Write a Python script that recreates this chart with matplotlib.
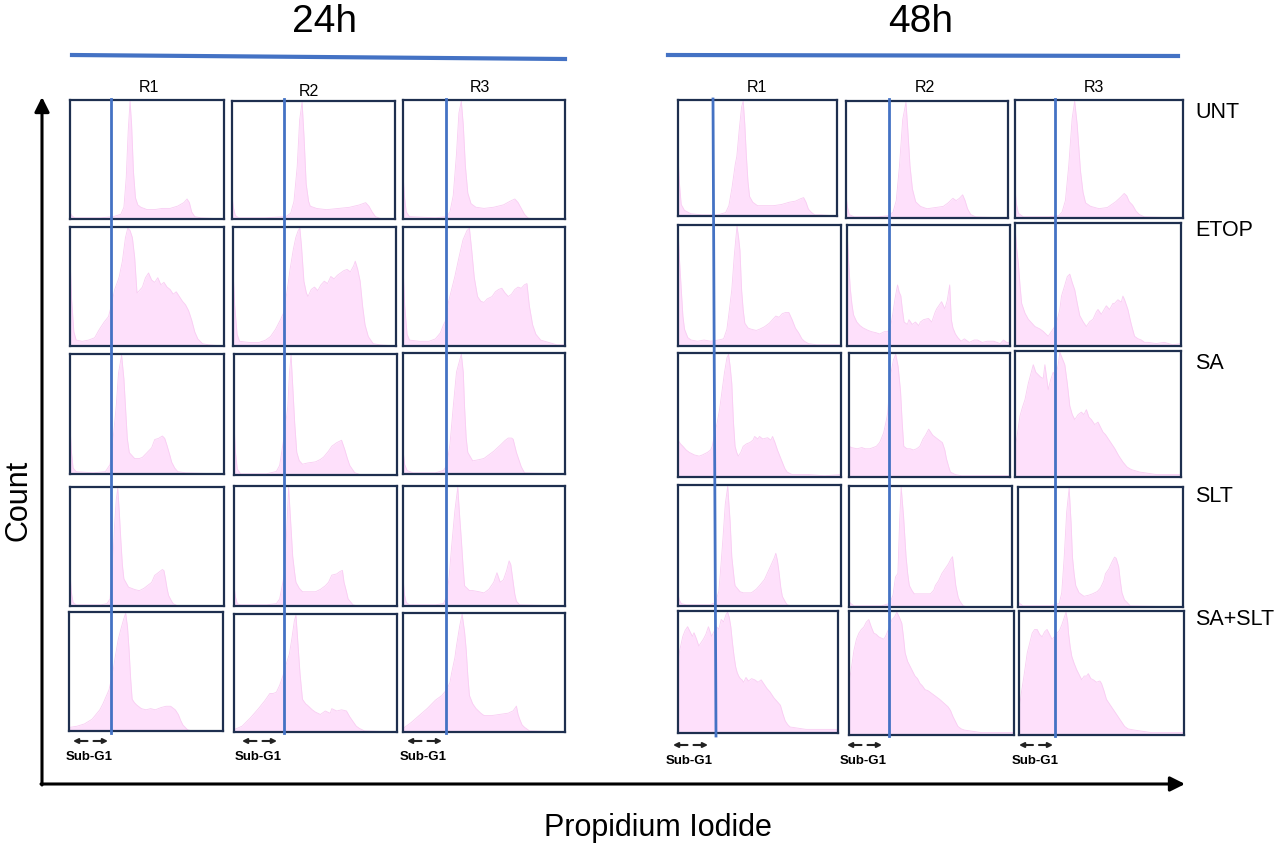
import matplotlib
matplotlib.use("Agg")
import matplotlib.pyplot as plt

plt.rcParams['font.family'] = ['Liberation Sans', 'DejaVu Sans']

TIMES = ['24h', '48h']
REPS = ['R1', 'R2', 'R3']
TREATMENTS = ['UNT', 'ETOP', 'SA', 'SLT', 'SA+SLT']

# PI histograms: (PI channel 0-1000, count as % of panel max)
# ---- 24h ----
UNT_24_R1 = [(0,6),(10,3),(30,1),(100,1),(200,1),(280,2),(330,4),(350,10),(365,35),(378,75),(390,100),(400,80),(412,40),(425,18),(440,12),(460,10),(500,8),(550,8),(600,9),(650,9),(700,11),(740,14),(760,17),(775,14),(790,6),(810,2),(850,1),(1000,0)]
UNT_24_R2 = [(0,20),(8,10),(20,3),(40,1),(200,1),(330,2),(360,5),(380,15),(400,45),(415,85),(430,100),(442,70),(455,30),(470,15),(480,11),(520,9),(580,8),(650,9),(720,10),(780,12),(820,14),(840,11),(860,6),(880,2),(920,0),(1000,0)]
UNT_24_R3 = [(0,39),(8,20),(20,6),(40,2),(200,1),(270,2),(290,6),(310,20),(330,55),(345,90),(360,100),(372,80),(385,45),(400,22),(420,13),(450,10),(500,9),(560,10),(620,12),(660,15),(690,17),(710,14),(730,9),(750,4),(770,1),(800,0),(1000,0)]

ETOP_24_R1 = [(0,76),(10,40),(25,12),(40,5),(80,4),(120,5),(160,7),(190,14),(220,20),(250,25),(270,35),(290,48),(310,55),(320,59),(340,72),(360,92),(375,100),(390,98),(405,92),(420,75),(435,45),(450,47),(470,50),(490,58),(510,62),(530,56),(550,54),(570,58),(590,52),(610,54),(630,50),(650,48),(670,44),(690,46),(710,42),(730,38),(750,35),(770,30),(790,22),(810,12),(830,6),(860,2),(900,1),(1000,0)]
ETOP_24_R2 = [(0,65),(10,35),(25,10),(40,4),(100,3),(160,3),(200,5),(230,8),(260,14),(290,22),(310,28),(330,45),(350,65),(370,82),(385,92),(400,98),(410,100),(420,85),(435,55),(450,45),(460,42),(480,48),(500,50),(520,47),(540,52),(560,55),(580,53),(600,59),(620,57),(640,60),(660,62),(680,64),(700,65),(720,63),(740,68),(750,72),(765,65),(780,55),(795,34),(810,18),(830,8),(860,2),(900,1),(1000,0)]
ETOP_24_R3 = [(0,68),(10,35),(25,10),(40,5),(100,4),(160,4),(200,6),(230,11),(250,18),(265,22),(280,37),(300,48),(320,59),(345,75),(370,90),(395,98),(410,100),(425,80),(440,58),(460,42),(480,38),(500,37),(520,40),(550,42),(570,46),(590,48),(610,49),(630,45),(650,42),(670,44),(690,48),(710,50),(730,49),(750,52),(765,53),(780,34),(800,18),(820,10),(850,5),(900,3),(950,1),(1000,1)]

SA_24_R1 = [(0,41),(8,20),(20,5),(40,2),(150,1),(230,2),(260,8),(280,30),(300,57),(315,85),(335,100),(350,80),(360,57),(372,30),(385,18),(420,13),(450,13),(470,14),(500,18),(530,22),(550,29),(575,30),(600,32),(615,30),(630,24),(650,15),(660,10),(680,5),(700,2),(750,1),(1000,0)]
SA_24_R2 = [(0,43),(8,20),(20,5),(40,1),(200,1),(260,3),(280,8),(305,30),(330,57),(340,85),(350,100),(362,70),(372,44),(385,19),(400,12),(420,9),(450,10),(500,11),(530,13),(550,15),(580,20),(600,24),(630,27),(660,29),(680,21),(695,14),(710,8),(740,2),(780,0),(1000,0)]
SA_24_R3 = [(0,20),(10,8),(25,3),(60,1),(200,1),(250,3),(270,7),(290,25),(310,56),(330,85),(360,100),(372,85),(380,56),(390,30),(400,18),(430,11),(470,12),(500,13),(530,16),(560,19),(600,24),(630,28),(650,30),(670,30),(680,29),(700,18),(715,12),(730,6),(750,1),(1000,0)]

SLT_24_R1 = [(0,29),(8,12),(20,3),(40,1),(200,1),(240,2),(260,6),(275,30),(290,70),(300,90),(310,100),(320,80),(330,56),(340,35),(350,23),(380,16),(420,14),(450,13),(480,15),(500,17),(530,20),(550,26),(580,29),(600,31),(610,30),(620,23),(630,15),(640,9),(660,4),(670,2),(700,0),(1000,0)]
SLT_24_R2 = [(0,17),(8,8),(20,2),(40,1),(200,1),(260,2),(280,6),(300,20),(310,28),(322,60),(335,100),(348,70),(360,42),(372,28),(380,20),(400,15),(420,12),(450,12),(500,12),(530,14),(560,17),(580,20),(600,26),(630,27),(650,29),(665,30),(675,20),(690,12),(700,6),(730,1),(760,0),(1000,0)]
SLT_24_R3 = [(0,25),(8,10),(20,3),(40,1),(200,1),(250,2),(270,8),(285,25),(300,50),(320,80),(338,100),(350,75),(360,56),(370,35),(380,17),(410,13),(430,13),(470,12),(500,11),(530,14),(560,20),(580,28),(600,20),(620,22),(640,30),(655,38),(665,35),(680,20),(690,10),(700,4),(720,1),(1000,0)]

COMBO_24_R1 = [(0,3),(50,4),(100,6),(150,10),(200,18),(220,23),(240,29),(260,35),(270,41),(285,50),(300,63),(320,78),(340,88),(355,95),(368,100),(380,88),(390,69),(400,45),(410,27),(425,24),(440,22),(470,19),(500,18),(530,19),(560,18),(600,20),(630,21),(660,21),(690,18),(710,14),(725,9),(740,5),(770,1),(800,0),(1000,0)]
COMBO_24_R2 = [(0,2),(50,5),(100,12),(150,20),(190,27),(220,33),(240,33),(260,34),(280,40),(300,48),(320,58),(340,67),(355,80),(370,95),(380,100),(395,70),(405,50),(420,28),(440,24),(450,23),(480,19),(500,17),(530,15),(560,18),(590,16),(600,20),(630,18),(660,19),(690,18),(710,13),(730,9),(750,5),(770,3),(800,1),(1000,0)]
COMBO_24_R3 = [(0,3),(50,8),(100,14),(150,20),(200,27),(240,31),(270,36),(290,42),(300,50),(320,63),(330,73),(350,90),(365,100),(380,85),(390,70),(400,48),(410,31),(430,24),(450,20),(480,16),(500,14),(550,14),(600,15),(650,16),(680,18),(700,22),(710,15),(720,11),(735,6),(750,4),(780,1),(1000,0)]

# ---- 48h ----
UNT_48_R1 = [(0,52),(8,30),(20,10),(40,5),(80,2),(150,1),(250,1),(300,3),(320,9),(340,25),(360,45),(370,52),(385,75),(400,95),(410,100),(420,80),(430,52),(440,30),(450,17),(470,12),(500,9),(550,9),(600,9),(650,10),(700,12),(740,13),(770,15),(790,16),(805,12),(820,6),(840,3),(860,1),(900,1),(1000,0)]
UNT_48_R2 = [(0,20),(8,10),(20,3),(50,1),(200,1),(260,2),(290,5),(310,15),(330,45),(350,85),(370,100),(382,75),(395,45),(410,25),(430,14),(460,10),(500,8),(550,9),(600,10),(630,13),(660,17),(680,15),(700,17),(720,20),(735,15),(750,8),(770,3),(800,1),(1000,0)]
UNT_48_R3 = [(0,25),(8,12),(20,4),(50,1),(200,1),(260,2),(280,5),(300,15),(320,45),(340,85),(355,100),(370,80),(390,40),(405,22),(420,13),(450,10),(500,8),(550,9),(600,14),(630,18),(650,21),(665,19),(680,14),(700,11),(720,6),(740,3),(770,1),(1000,0)]

ETOP_48_R1 = [(0,97),(10,70),(20,47),(30,25),(40,14),(60,7),(80,5),(120,4),(160,5),(200,4),(250,5),(280,6),(300,14),(315,30),(330,47),(345,75),(355,90),(362,100),(372,90),(380,80),(390,47),(400,30),(410,19),(430,15),(450,14),(480,13),(500,14),(530,16),(560,19),(580,22),(600,25),(620,24),(640,27),(660,28),(680,28),(690,25),(700,22),(720,15),(740,11),(760,6),(775,4),(800,2),(850,1),(1000,1)]
ETOP_48_R2 = [(0,97),(10,70),(20,48),(30,35),(40,26),(60,20),(80,17),(100,15),(130,13),(150,12),(180,11),(200,10),(230,12),(250,12),(270,18),(280,26),(295,40),(310,51),(320,45),(330,42),(340,30),(350,20),(370,18),(380,22),(400,18),(420,20),(440,17),(450,20),(470,22),(500,23),(520,20),(540,28),(550,31),(570,35),(580,37),(600,31),(615,38),(630,51),(640,22),(650,15),(665,10),(680,7),(700,4),(720,6),(750,3),(780,5),(800,5),(830,3),(860,4),(900,4),(940,2),(960,5),(980,3),(1000,3)]
ETOP_48_R3 = [(0,98),(10,80),(20,68),(30,50),(40,35),(60,27),(80,22),(100,19),(120,16),(150,14),(170,12),(200,8),(220,12),(240,16),(250,19),(270,30),(280,41),(300,50),(315,57),(330,59),(345,52),(360,46),(375,35),(390,25),(410,20),(430,16),(450,20),(470,22),(490,28),(500,30),(520,26),(550,33),(570,30),(590,35),(600,35),(620,38),(640,36),(650,41),(660,38),(680,30),(700,18),(720,8),(740,6),(760,5),(780,3),(800,3),(850,2),(900,3),(950,1),(1000,2)]

SA_48_R1 = [(0,30),(15,27),(30,25),(50,22),(70,20),(100,18),(130,17),(150,18),(180,20),(200,22),(210,25),(225,35),(240,44),(255,55),(270,70),(285,85),(300,97),(310,100),(320,90),(330,76),(340,45),(350,25),(360,20),(370,17),(385,20),(400,25),(420,27),(440,28),(460,30),(470,33),(490,31),(500,33),(520,31),(550,32),(570,30),(580,33),(595,28),(610,22),(625,17),(640,12),(655,7),(670,4),(700,2),(800,2),(900,1),(1000,2)]
SA_48_R2 = [(0,25),(15,24),(50,23),(80,24),(100,23),(130,23),(150,24),(170,25),(190,28),(200,31),(215,36),(230,45),(240,52),(250,70),(260,84),(275,95),(290,100),(305,90),(320,70),(330,45),(340,25),(360,23),(380,23),(400,22),(420,23),(440,25),(460,31),(475,34),(495,39),(510,36),(520,34),(540,32),(560,30),(580,28),(595,22),(605,15),(620,8),(630,4),(660,2),(700,1),(800,1),(1000,1)]
SA_48_R3 = [(0,23),(15,35),(30,49),(45,56),(60,62),(80,75),(100,85),(110,90),(125,84),(140,82),(155,80),(170,79),(180,90),(190,80),(200,70),(215,78),(230,84),(245,80),(260,90),(270,100),(285,95),(300,90),(315,75),(330,57),(345,50),(360,46),(380,50),(400,52),(415,50),(430,54),(445,48),(460,46),(480,42),(500,44),(515,40),(530,36),(545,34),(560,31),(580,27),(600,23),(625,17),(650,12),(675,8),(700,6),(725,5),(750,4),(800,3),(850,2),(900,2),(950,2),(1000,2)]

SLT_48_R1 = [(0,10),(8,5),(20,2),(50,1),(200,1),(230,3),(250,12),(260,28),(275,55),(290,85),(305,100),(320,70),(330,41),(345,22),(350,17),(380,12),(400,11),(450,11),(480,14),(500,17),(530,22),(550,28),(570,34),(590,40),(600,44),(610,38),(620,28),(630,16),(640,8),(660,3),(670,1),(700,0),(1000,0)]
SLT_48_R2 = [(0,5),(10,3),(30,1),(200,1),(250,3),(270,10),(285,25),(300,28),(310,70),(320,100),(335,75),(350,42),(360,28),(370,18),(385,14),(400,11),(450,11),(500,11),(520,14),(530,18),(550,22),(570,28),(590,32),(610,36),(625,40),(635,42),(645,30),(655,18),(670,8),(680,5),(700,1),(730,0),(1000,0)]
SLT_48_R3 = [(0,5),(10,3),(30,1),(200,1),(250,3),(265,12),(280,42),(295,80),(310,100),(322,70),(330,42),(340,28),(350,18),(370,12),(400,9),(430,10),(450,11),(480,13),(500,16),(520,22),(530,28),(550,32),(570,38),(585,42),(595,41),(610,34),(620,22),(630,12),(645,6),(660,4),(680,1),(1000,0)]

COMBO_48_R1 = [(0,56),(10,68),(30,80),(45,85),(60,88),(75,84),(90,80),(100,83),(115,78),(130,72),(145,75),(160,78),(175,82),(190,88),(200,84),(210,80),(225,84),(240,88),(255,86),(270,94),(285,92),(300,98),(310,100),(320,96),(330,88),(340,75),(350,64),(360,55),(370,50),(380,47),(390,45),(400,44),(410,42),(425,46),(440,43),(460,45),(480,44),(500,42),(520,44),(540,40),(555,37),(575,34),(600,29),(620,26),(640,23),(655,16),(670,10),(685,7),(700,5),(750,4),(800,3),(900,3),(1000,3)]
COMBO_48_R2 = [(0,42),(15,55),(30,69),(45,78),(60,83),(75,86),(90,88),(105,92),(120,94),(135,88),(150,83),(165,82),(180,80),(195,79),(210,78),(220,80),(230,83),(245,88),(260,94),(275,96),(290,100),(305,96),(320,91),(330,80),(340,67),(355,60),(370,56),(385,52),(400,48),(415,46),(430,42),(445,40),(460,37),(480,36),(500,34),(520,32),(550,29),(575,26),(600,23),(615,20),(630,15),(645,11),(660,7),(680,5),(700,4),(750,3),(800,2),(900,2),(1000,2)]
COMBO_48_R3 = [(0,20),(15,35),(30,48),(50,67),(65,75),(80,83),(95,86),(110,86),(125,82),(140,80),(155,84),(170,86),(185,82),(200,78),(215,80),(230,83),(245,85),(260,90),(275,96),(285,100),(295,92),(300,83),(310,72),(320,64),(335,58),(350,53),(365,49),(380,45),(395,48),(410,48),(420,50),(435,46),(450,45),(470,43),(490,44),(500,42),(515,36),(530,29),(545,26),(560,23),(580,19),(600,15),(620,11),(640,7),(660,5),(700,4),(750,3),(800,2),(900,2),(1000,2)]

HISTS = {
    '24h': [[UNT_24_R1, UNT_24_R2, UNT_24_R3],
            [ETOP_24_R1, ETOP_24_R2, ETOP_24_R3],
            [SA_24_R1, SA_24_R2, SA_24_R3],
            [SLT_24_R1, SLT_24_R2, SLT_24_R3],
            [COMBO_24_R1, COMBO_24_R2, COMBO_24_R3]],
    '48h': [[UNT_48_R1, UNT_48_R2, UNT_48_R3],
            [ETOP_48_R1, ETOP_48_R2, ETOP_48_R3],
            [SA_48_R1, SA_48_R2, SA_48_R3],
            [SLT_48_R1, SLT_48_R2, SLT_48_R3],
            [COMBO_48_R1, COMBO_48_R2, COMBO_48_R3]],
}

# layout, in pixels of the 1283x854 picture: (left, top, right, bottom)
W, H = 1283, 854
BOXES = {
    '24h': [[(70,101,224,220), (232,102,395,220), (403,101,565,220)],
            [(70,228,224,347), (233,228,396,347), (403,228,565,347)],
            [(70,355,224,475), (234,355,397,476), (403,354,565,475)],
            [(70,488,224,607), (234,487,397,607), (403,487,565,607)],
            [(69,613,223,732), (234,615,397,733), (403,614,565,733)]],
    '48h': [[(678,101,837,217), (846,102,1008,219), (1015,101,1183,219)],
            [(678,226,841,347), (847,226,1010,347), (1015,224,1181,347)],
            [(678,354,841,478), (849,354,1010,478), (1015,352,1181,478)],
            [(678,486,841,607), (849,487,1012,608), (1018,488,1183,608)],
            [(678,612,838,734), (849,612,1014,736), (1019,612,1184,736)]],
}
GATE_X = {'24h': [(111,111), (284,284), (446,446)],
          '48h': [(713,716), (889,889), (1055,1055)]}
GATE_Y = {'24h': (100, 734), '48h': (100, 737)}
REP_LABEL_XY = {'24h': [(149,87), (309,91), (480,88)],
                '48h': [(757,87), (925,87), (1094,87)]}
SUBG1_X = {'24h': [(73,108), (242,277), (407,442)],
           '48h': [(673,708), (847,882), (1019,1053)]}
SUBG1_Y = {'24h': (742, 757), '48h': (746, 761)}
ROW_LABEL_Y = [112, 231, 364, 497, 620]

PINK = '#fee0fb'
PINK_EDGE = '#f9cdf3'
NAVY = '#1e2f4f'
BLUE = '#4472c4'

fig = plt.figure(figsize=(W / 100, H / 100), dpi=100)


def px_axes(l, t, r, b):
    return fig.add_axes([l / W, 1 - b / H, (r - l) / W, (b - t) / H])


for t in TIMES:
    for i, tr in enumerate(TREATMENTS):
        for j, rep in enumerate(REPS):
            ax = px_axes(*BOXES[t][i][j])
            xs = [p[0] for p in HISTS[t][i][j]]
            ys = [p[1] for p in HISTS[t][i][j]]
            ax.fill_between(xs, ys, color=PINK, lw=0)
            ax.plot(xs, ys, color=PINK_EDGE, lw=0.6)
            ax.set_xlim(0, 1000)
            ax.set_ylim(0, 101)
            ax.set_xticks([])
            ax.set_yticks([])
            for s in ax.spines.values():
                s.set_color(NAVY)
                s.set_linewidth(1.6)

# overlay in pixel coordinates
ov = fig.add_axes([0, 0, 1, 1], zorder=5)
ov.set_xlim(0, W)
ov.set_ylim(H, 0)
ov.axis('off')
ov.patch.set_alpha(0)

ov.text(325, 22, '24h', fontsize=28, ha='center', va='center')
ov.text(921, 22, '48h', fontsize=28, ha='center', va='center')
ov.plot([72, 565], [56, 60], color=BLUE, lw=3)
ov.plot([668, 1178], [56, 57], color=BLUE, lw=3)

for t in TIMES:
    for j, rep in enumerate(REPS):
        x, y = REP_LABEL_XY[t][j]
        ov.text(x, y, rep, fontsize=11.5, ha='center', va='center')
        x0, x1 = GATE_X[t][j]
        ov.plot([x0, x1], list(GATE_Y[t]), color=BLUE, lw=2)
        a, b = SUBG1_X[t][j]
        ya, yt = SUBG1_Y[t]
        mid = (a + b) / 2
        ov.annotate('', xy=(a, ya), xytext=(mid - 3, ya),
                    arrowprops=dict(arrowstyle='-|>', color='#222222', lw=1.5, mutation_scale=7, shrinkA=0, shrinkB=0))
        ov.annotate('', xy=(b, ya), xytext=(mid + 3, ya),
                    arrowprops=dict(arrowstyle='-|>', color='#222222', lw=1.5, mutation_scale=7, shrinkA=0, shrinkB=0))
        ov.text(mid - 1, yt, 'Sub-G1', fontsize=9.5, fontweight='bold', ha='center', va='center')

for i, tr in enumerate(TREATMENTS):
    ov.text(1195, ROW_LABEL_Y[i], tr, fontsize=15.5, ha='left', va='center')

# axes arrows
ov.annotate('', xy=(42, 98), xytext=(42, 786),
            arrowprops=dict(arrowstyle='-|>', color='black', lw=2.2, mutation_scale=22, shrinkA=0, shrinkB=0))
ov.annotate('', xy=(1185, 785), xytext=(41, 785),
            arrowprops=dict(arrowstyle='-|>', color='black', lw=2.2, mutation_scale=22, shrinkA=0, shrinkB=0))
ov.text(18, 500, 'Count', fontsize=22, rotation=90, ha='center', va='center')
ov.text(658, 828, 'Propidium Iodide', fontsize=22, ha='center', va='center')

fig.savefig('out.png', dpi=100)
